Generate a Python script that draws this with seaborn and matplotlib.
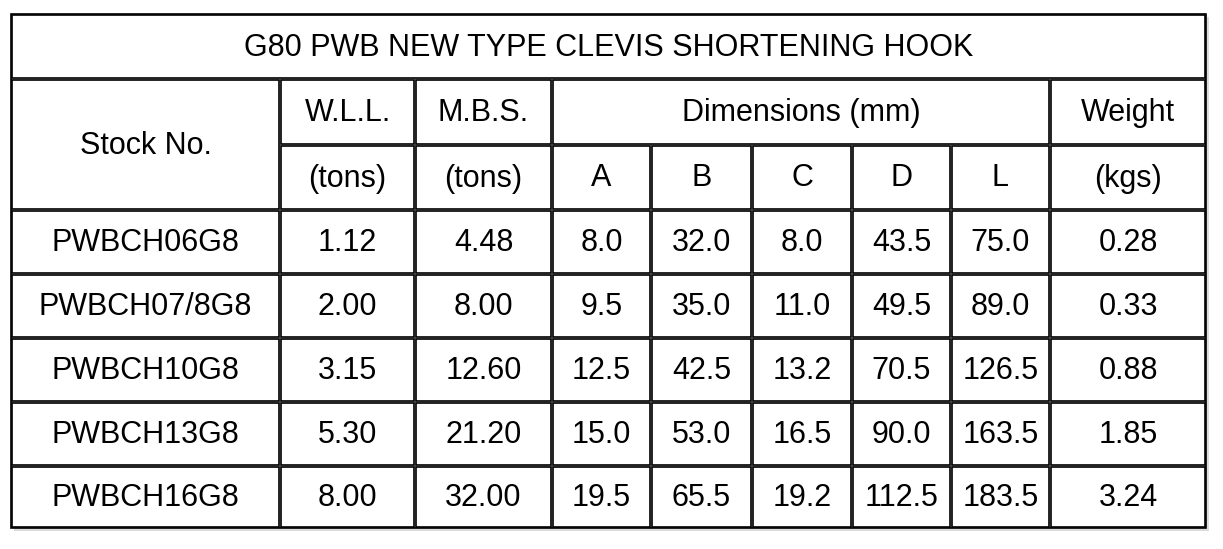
import matplotlib.pyplot as plt
import seaborn as sns
from matplotlib.patches import Rectangle

title = "G80 PWB NEW TYPE CLEVIS SHORTENING HOOK"
stock_no = ["PWBCH06G8", "PWBCH07/8G8", "PWBCH10G8", "PWBCH13G8", "PWBCH16G8"]
wll = [1.12, 2.00, 3.15, 5.30, 8.00]
mbs = [4.48, 8.00, 12.60, 21.20, 32.00]
dim_a = [8.0, 9.5, 12.5, 15.0, 19.5]
dim_b = [32.0, 35.0, 42.5, 53.0, 65.5]
dim_c = [8.0, 11.0, 13.2, 16.5, 19.2]
dim_d = [43.5, 49.5, 70.5, 90.0, 112.5]
dim_l = [75.0, 89.0, 126.5, 163.5, 183.5]
weight = [0.28, 0.33, 0.88, 1.85, 3.24]
sub_headers = ["(tons)", "(tons)", "A", "B", "C", "D", "L", "(kgs)"]

sns.set_style("white")
plt.rcParams['font.family'] = ['Liberation Sans', 'DejaVu Sans']

fig = plt.figure(figsize=(12.23, 5.49), dpi=100)
ax = fig.add_axes([0, 0, 1, 1])
ax.set_xlim(0, 1223)
ax.set_ylim(549, 0)
ax.axis('off')

# table geometry (pixels)
cols = [11, 280, 415, 552, 651, 752, 852, 951, 1050, 1206]
rows = [14, 79, 145, 210, 274, 338, 402, 466, 528]
fs = 22
lw = 1.2
gap = 1.2

# drop shadow, then grey table background showing between cells
ax.add_patch(Rectangle((cols[0] + 3, rows[0] + 3), cols[-1] - cols[0], rows[-1] - rows[0],
                       facecolor='#dcdcdc', edgecolor='none', zorder=0))
ax.add_patch(Rectangle((cols[0], rows[0]), cols[-1] - cols[0], rows[-1] - rows[0],
                       facecolor='#d4d4d4', edgecolor='black', lw=lw, zorder=1))


def cell(x0, x1, y0, y1, text=None):
    ax.add_patch(Rectangle((x0 + gap, y0 + gap), x1 - x0 - 2 * gap, y1 - y0 - 2 * gap,
                           facecolor='white', edgecolor='black', lw=lw, zorder=3))
    if text is not None:
        ax.text((x0 + x1) / 2, (y0 + y1) / 2 + 1, text, ha='center', va='center',
                fontsize=fs, color='black', zorder=4)


cell(cols[0], cols[-1], rows[0], rows[1], title)
cell(cols[0], cols[1], rows[1], rows[3], "Stock No.")
cell(cols[1], cols[2], rows[1], rows[2], "W.L.L.")
cell(cols[2], cols[3], rows[1], rows[2], "M.B.S.")
cell(cols[3], cols[8], rows[1], rows[2], "Dimensions (mm)")
cell(cols[8], cols[9], rows[1], rows[2], "Weight")
for i, h in enumerate(sub_headers):
    cell(cols[i + 1], cols[i + 2], rows[2], rows[3], h)

for r in range(len(stock_no)):
    values = [stock_no[r], f"{wll[r]:.2f}", f"{mbs[r]:.2f}", f"{dim_a[r]:.1f}",
              f"{dim_b[r]:.1f}", f"{dim_c[r]:.1f}", f"{dim_d[r]:.1f}",
              f"{dim_l[r]:.1f}", f"{weight[r]:.2f}"]
    for c, v in enumerate(values):
        cell(cols[c], cols[c + 1], rows[r + 3], rows[r + 4], v)

fig.savefig("out.png", dpi=100, facecolor='white')
